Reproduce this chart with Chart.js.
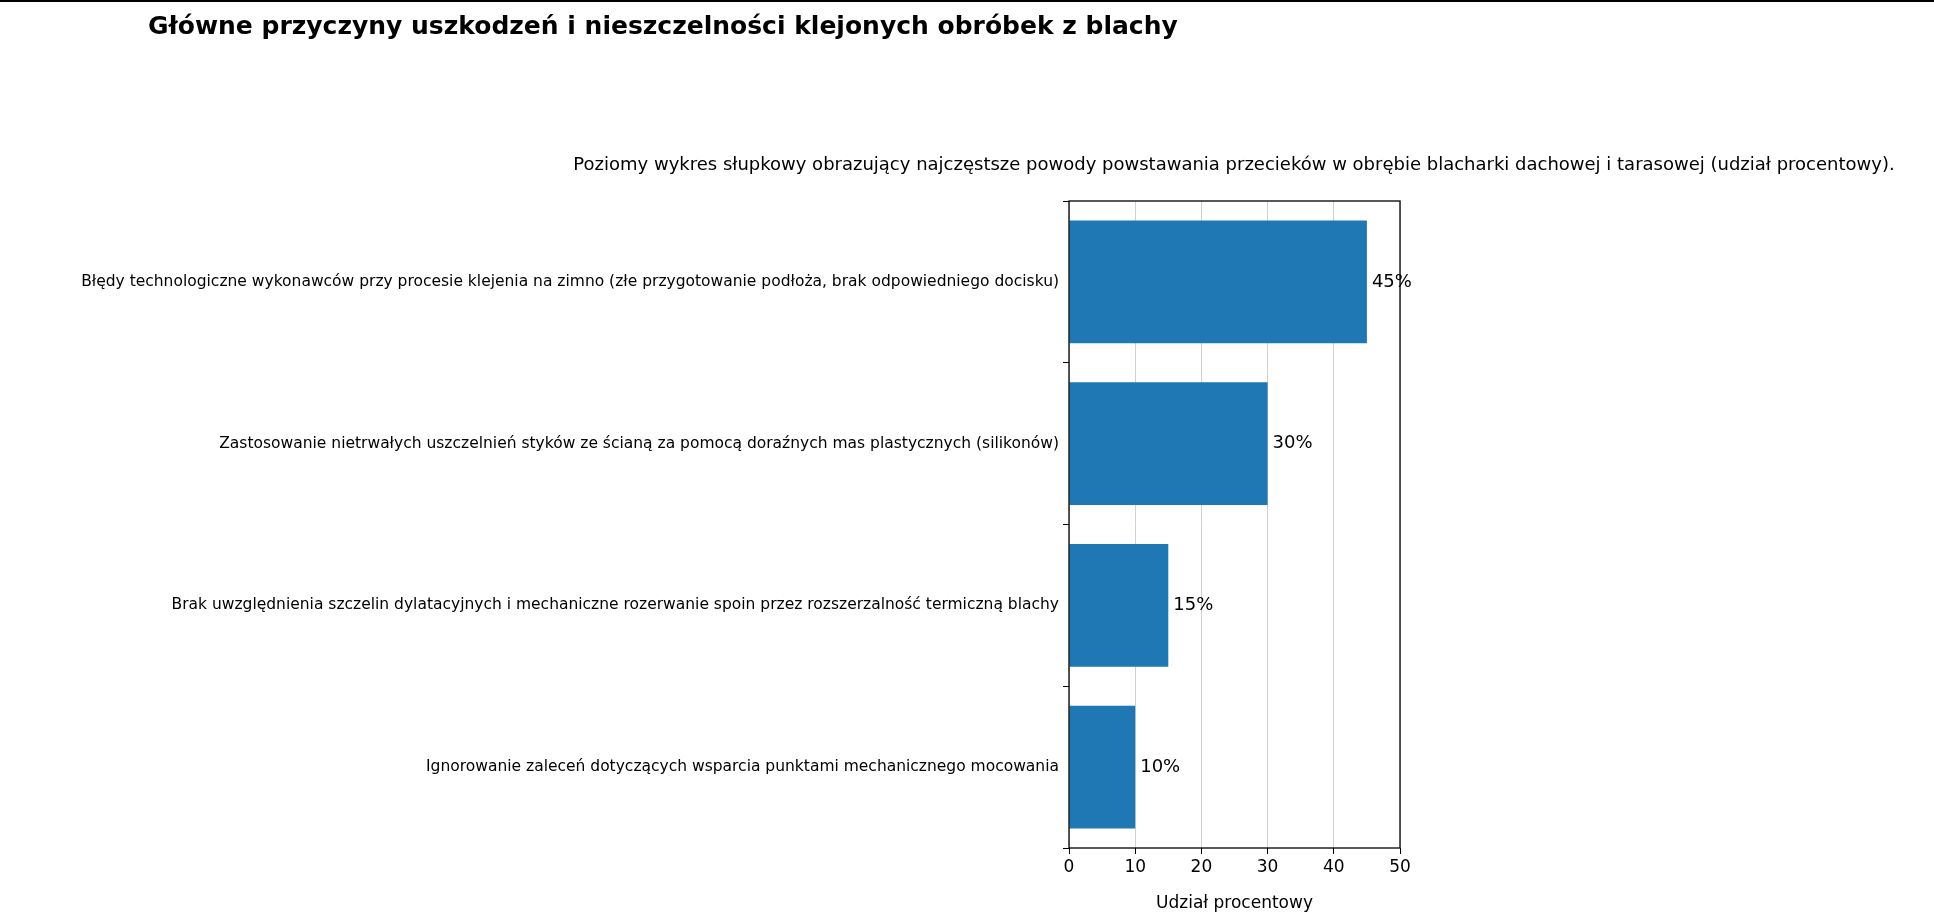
<!DOCTYPE html>
<html><head><meta charset="utf-8">
<script src="https://cdn.jsdelivr.net/npm/chart.js@4"></script>
<style>html,body{margin:0;padding:0;background:#fff}</style>
</head><body>
<canvas id="c" width="1934" height="918" style="display:block"></canvas>
<script>
const categories = [
 "Błędy technologiczne wykonawców przy procesie klejenia na zimno (złe przygotowanie podłoża, brak odpowiedniego docisku)",
 "Zastosowanie nietrwałych uszczelnień styków ze ścianą za pomocą doraźnych mas plastycznych (silikonów)",
 "Brak uwzględnienia szczelin dylatacyjnych i mechaniczne rozerwanie spoin przez rozszerzalność termiczną blachy",
 "Ignorowanie zaleceń dotyczących wsparcia punktami mechanicznego mocowania"
];
const values = [45, 30, 15, 10];
const xTicks = [0, 10, 20, 30, 40, 50];
const titleText = "Główne przyczyny uszkodzeń i nieszczelności klejonych obróbek z blachy";
const subtitleText = "Poziomy wykres słupkowy obrazujący najczęstsze powody powstawania przecieków w obrębie blacharki dachowej i tarasowej (udział procentowy).";
const F = "'DejaVu Sans', sans-serif";

const deco = {
  id: 'deco',
  afterDraw(chart) {
    const ctx = chart.ctx, a = chart.chartArea;
    ctx.save();
    ctx.fillStyle = '#000';
    ctx.fillRect(0, 0, 1934, 2);
    ctx.font = "bold 25px " + F;
    ctx.textBaseline = 'middle'; ctx.textAlign = 'left';
    ctx.fillText(titleText, 148, 27);
    ctx.font = "18px " + F; ctx.textAlign = 'center';
    ctx.fillText(subtitleText, 1234, 165);
    ctx.strokeStyle = '#000'; ctx.lineWidth = 1.3;
    ctx.strokeRect(a.left, a.top, a.right - a.left, a.bottom - a.top);
    const meta = chart.getDatasetMeta(0);
    ctx.font = "18px " + F; ctx.textAlign = 'left';
    meta.data.forEach((b, i) => ctx.fillText(values[i] + '%', b.x + 5, b.y));
    ctx.restore();
  }
};

new Chart(document.getElementById('c'), {
  type: 'bar',
  data: { labels: categories, datasets: [{ data: values, backgroundColor: '#1f77b4', barPercentage: 0.8, categoryPercentage: 0.95 }] },
  options: {
    indexAxis: 'y', responsive: false, animation: false, devicePixelRatio: 1,
    layout: { padding: { left: 0, right: 534, top: 201, bottom: 0 } },
    plugins: { legend: { display: false }, tooltip: { enabled: false } },
    scales: {
      x: {
        min: 0, max: 50,
        afterBuildTicks: s => { s.ticks = xTicks.map(v => ({ value: v })); },
        afterFit: s => { s.height = 70; },
        border: { display: false },
        grid: { color: '#d0d0d0', borderDash: [5, 5], tickColor: '#000', tickBorderDash: [], tickLength: 6, lineWidth: 1 },
        ticks: { color: '#000', font: { family: F, size: 17 }, padding: 3 },
        title: { display: true, text: 'Udział procentowy', color: '#000', font: { family: F, size: 17 }, padding: { top: 2 } }
      },
      y: {
        afterFit: s => { s.width = 1069; },
        border: { display: false },
        grid: { drawOnChartArea: false, tickColor: '#000', tickLength: 6 },
        ticks: { color: '#000', font: { family: F, size: 15.5 }, padding: 4 }
      }
    }
  },
  plugins: [deco]
});
</script>
</body></html>
